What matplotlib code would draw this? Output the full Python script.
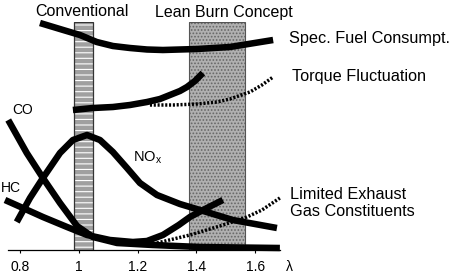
import matplotlib
matplotlib.use("Agg")
import matplotlib.pyplot as plt

plt.rcParams['font.family'] = ['Liberation Sans', 'DejaVu Sans']
plt.rcParams['hatch.linewidth'] = 0.8

# ---- data (lambda = air ratio, level = relative magnitude) ----
tick_vals = [0.8, 1.0, 1.2, 1.4, 1.6]
tick_labels = ['0.8', '1', '1.2', '1.4', '1.6']

conv_band = (0.984, 1.048)
lean_band = (1.375, 1.565)

fuel_lam = [0.868, 0.947, 1.004, 1.061, 1.116, 1.174, 1.232, 1.286, 1.402, 1.514, 1.661]
fuel_lvl = [227, 220, 215, 208, 204, 202, 200.5, 200, 201, 203, 210]

torque_conv_lam = [0.980, 1.048, 1.116, 1.174, 1.232, 1.276, 1.310, 1.344, 1.368, 1.395, 1.422]
torque_conv_lvl = [140, 142, 143, 145, 148, 151, 155, 159, 163, 169, 177]

torque_lean_lam = [1.242, 1.320, 1.402, 1.470, 1.514, 1.582, 1.623, 1.661]
torque_lean_lvl = [145, 145, 146, 148, 151, 158, 165, 173]

co_lam = [0.760, 0.823, 0.878, 0.936, 0.994, 1.048, 1.130, 1.252, 1.412, 1.684]
co_lvl = [130, 97, 72, 47, 24, 13, 7, 5, 3, 2]

hc_lam = [0.749, 0.810, 0.878, 0.960, 1.028, 1.106, 1.184, 1.232, 1.286, 1.340, 1.378, 1.436, 1.490]
hc_lvl = [50, 42, 33, 23, 15, 10, 8, 9, 15, 25, 33, 42, 50]

nox_lam = [0.789, 0.834, 0.878, 0.936, 0.980, 1.028, 1.072, 1.116, 1.164, 1.208,
           1.266, 1.344, 1.412, 1.524, 1.674]
nox_lvl = [28, 52, 72, 97, 110, 115, 110, 98, 82, 67, 55, 46, 40, 30, 22]

lean_exh_lam = [1.242, 1.266, 1.378, 1.480, 1.572, 1.623, 1.684]
lean_exh_lvl = [4, 7, 15, 24, 33, 40, 52]

# ---- figure ----
fig = plt.figure(figsize=(4.56, 2.8), dpi=100)
ax = fig.add_axes([8/456, 30/280, 272/456, 228/280])
ax.set_xlim(0.7592, 1.6844)
ax.set_ylim(0, 228)

for s in ['top', 'right', 'left']:
    ax.spines[s].set_visible(False)
ax.spines['bottom'].set_linewidth(0.9)
ax.set_yticks([])
ax.set_xticks(tick_vals)
ax.set_xticklabels(tick_labels, fontsize=10)
ax.tick_params(axis='x', length=2.5, width=0.8, pad=5)

# bands
ax.axvspan(*conv_band, facecolor='#a0a0a0', edgecolor='white', hatch='---', lw=0, zorder=1)
ax.axvspan(*conv_band, facecolor='none', edgecolor='#333333', lw=0.9, zorder=1.5)
ax.axvspan(*lean_band, facecolor='#b0b0b0', edgecolor='#666666', hatch='.....', lw=0, zorder=1)
ax.axvspan(*lean_band, facecolor='none', edgecolor='#555555', lw=0.8, zorder=1.5)

thick = dict(color='black', lw=4.7, solid_capstyle='butt', solid_joinstyle='round',
             clip_on=False, zorder=3)
dotted = dict(color='black', lw=2.5, linestyle=(0, (0.6, 0.5)), dash_capstyle='butt',
              clip_on=False, zorder=3)

ax.plot(fuel_lam, fuel_lvl, **thick)
ax.plot(torque_conv_lam, torque_conv_lvl, **thick)
ax.plot(torque_lean_lam, torque_lean_lvl, **dotted)
ax.plot(co_lam, co_lvl, **thick)
ax.plot(hc_lam, hc_lvl, **thick)
ax.plot(nox_lam, nox_lvl, **thick)
ax.plot(lean_exh_lam, lean_exh_lvl, **dotted)

fs = 11.7
ax.text(1.011, 238, 'Conventional', ha='center', va='center', fontsize=11.5)
ax.text(1.495, 238, 'Lean Burn Concept', ha='center', va='center', fontsize=11.5)
ax.text(1.715, 212, 'Spec. Fuel Consumpt.', ha='left', va='center', fontsize=fs)
ax.text(1.725, 174, 'Torque Fluctuation', ha='left', va='center', fontsize=fs)
ax.text(1.718, 47, 'Limited Exhaust\nGas Constituents', ha='left', va='center',
        fontsize=fs, linespacing=1.15)
ax.text(0.808, 140, 'CO', ha='center', va='center', fontsize=10)
ax.text(0.770, 62, 'HC', ha='center', va='center', fontsize=10)
ax.text(1.235, 92, r'NO$_{\mathregular{x}}$', ha='center', va='center', fontsize=10.5)
ax.text(1.715, -17, 'λ', ha='center', va='center', fontsize=10)

fig.savefig('out.png', dpi=100)
